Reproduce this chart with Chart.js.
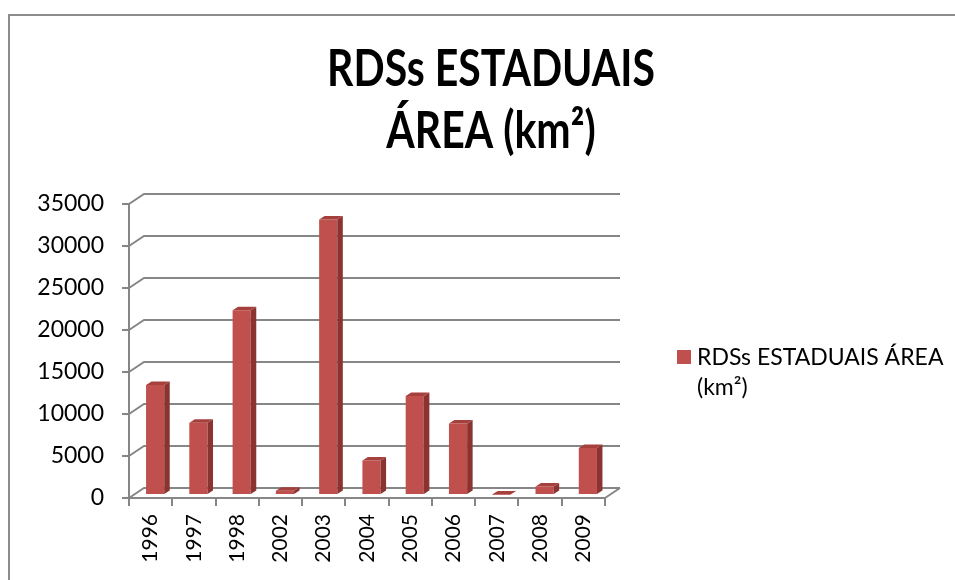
<!DOCTYPE html>
<html>
<head>
<meta charset="utf-8">
<script src="https://cdn.jsdelivr.net/npm/chart.js@4.4.0/dist/chart.umd.min.js"></script>
<style>
  html, body { margin: 0; padding: 0; background: #fff; }
  #wrap { position: relative; width: 955px; height: 580px; overflow: hidden; }
  #frame { position: absolute; left: 8px; top: 14px; width: 1000px; height: 700px;
           border-left: 2px solid #8c8c8c; border-top: 2px solid #8c8c8c; }
  canvas { position: absolute; left: 0; top: 0; }
</style>
</head>
<body>
<div id="wrap">
  <div id="frame"></div>
  <canvas id="chart" width="955" height="580"></canvas>
</div>
<script>
const years = ["1996", "1997", "1998", "2002", "2003", "2004", "2005", "2006", "2007", "2008", "2009"];
const areas = [13100, 8600, 22000, 500, 32800, 4100, 11800, 8500, 50, 1000, 5600];
const titleLines = ["RDSs ESTADUAIS", "ÁREA (km²)"];
const seriesLabel = "RDSs ESTADUAIS ÁREA (km²)";
const legendLines = ["RDSs ESTADUAIS ÁREA", "(km²)"];

const GRID = "#868686";
const FRONT = "#c0504d";
const SIDE = "#8a3331";
const TOP = "#a6403d";
const FONT = "Lato, 'Open Sans', sans-serif";

// fake 3d: wall offset, bars sit half way into the floor
const DEPTH_X = 15, DEPTH_Y = 10;
const SHIFT_X = 4.5, SHIFT_Y = 3;
const BAR_DX = 5.5, BAR_DY = 3.5;

const fake3d = {
  id: "fake3d",
  beforeDatasetsDraw(chart) {
    const { ctx, chartArea: a, scales: { y } } = chart;
    ctx.save();
    ctx.strokeStyle = GRID;
    ctx.lineWidth = 2;
    y.ticks.forEach((t) => {
      const py = y.getPixelForValue(t.value);
      ctx.beginPath();
      ctx.moveTo(a.left, py);
      ctx.lineTo(a.left + DEPTH_X, py - DEPTH_Y);
      ctx.lineTo(a.right + DEPTH_X, py - DEPTH_Y);
      ctx.stroke();
    });
    ctx.beginPath();
    ctx.moveTo(a.right, a.bottom);
    ctx.lineTo(a.right + DEPTH_X, a.bottom - DEPTH_Y);
    ctx.stroke();
    ctx.restore();
    ctx.save();
    ctx.translate(SHIFT_X, -SHIFT_Y);
  },
  afterDatasetsDraw(chart) {
    const ctx = chart.ctx;
    chart.getDatasetMeta(0).data.forEach((bar) => {
      const { x, y, base, width } = bar.getProps(["x", "y", "base", "width"], true);
      const l = x - width / 2, r = x + width / 2;
      ctx.fillStyle = SIDE;
      ctx.beginPath();
      ctx.moveTo(r, y);
      ctx.lineTo(r + BAR_DX, y - BAR_DY);
      ctx.lineTo(r + BAR_DX, base - BAR_DY);
      ctx.lineTo(r, base);
      ctx.closePath();
      ctx.fill();
      ctx.fillStyle = TOP;
      ctx.beginPath();
      ctx.moveTo(l, y);
      ctx.lineTo(l + BAR_DX, y - BAR_DY);
      ctx.lineTo(r + BAR_DX, y - BAR_DY);
      ctx.lineTo(r, y);
      ctx.closePath();
      ctx.fill();
    });
    ctx.restore();
  },
  afterDraw(chart) {
    const ctx = chart.ctx;
    ctx.save();
    ctx.fillStyle = "#000";
    ctx.textAlign = "center";
    ctx.textBaseline = "middle";
    ctx.font = "bold 41px " + FONT;
    // the original title is tall and narrow, stretch it a bit
    titleLines.forEach((line, i) => {
      ctx.save();
      ctx.translate(491, 69 + i * 62);
      ctx.scale(1, 1.25);
      ctx.fillText(line, 0, 0);
      ctx.restore();
    });

    // legend, wrapped like the original
    ctx.fillStyle = FRONT;
    ctx.fillRect(677, 350, 14, 14);
    ctx.fillStyle = "#000";
    ctx.textAlign = "left";
    ctx.font = "23px " + FONT;
    legendLines.forEach((line, i) => ctx.fillText(line, 697, 358 + i * 30));
    ctx.restore();
  },
};

new Chart(document.getElementById("chart"), {
  type: "bar",
  data: {
    labels: years,
    datasets: [{
      label: seriesLabel,
      data: areas,
      backgroundColor: FRONT,
      categoryPercentage: 0.42,
      barPercentage: 1,
    }],
  },
  options: {
    responsive: false,
    animation: false,
    layout: { padding: { top: 204, right: 350, bottom: 0, left: 0 } },
    plugins: { legend: { display: false }, title: { display: false }, tooltip: { enabled: false } },
    scales: {
      x: {
        afterFit: (s) => { s.height = 82; },
        grid: { drawOnChartArea: false, offset: true, color: GRID, lineWidth: 2, tickLength: 8 },
        border: { color: GRID, width: 2 },
        ticks: { color: "#000", font: { family: FONT, size: 21 }, minRotation: 90, maxRotation: 90, autoSkip: false, padding: 8 },
      },
      y: {
        min: 0,
        max: 35000,
        afterFit: (s) => { s.width = 129; },
        grid: { drawOnChartArea: false, color: GRID, lineWidth: 2, tickLength: 7 },
        border: { color: GRID, width: 2 },
        ticks: { stepSize: 5000, color: "#000", font: { family: FONT, size: 23 }, padding: 18, callback: (v) => String(v) },
      },
    },
  },
  plugins: [fake3d],
});
</script>
</body>
</html>
